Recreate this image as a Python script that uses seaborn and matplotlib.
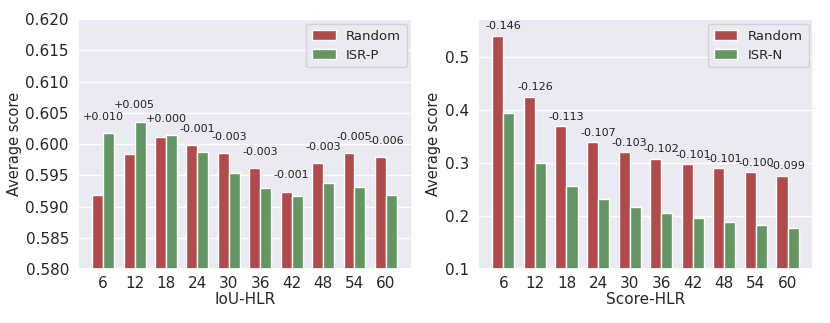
import numpy as np
import pandas as pd
import matplotlib
matplotlib.use("Agg")
import matplotlib.pyplot as plt
import seaborn as sns

hlr = ["6", "12", "18", "24", "30", "36", "42", "48", "54", "60"]

iou_random = [0.5918, 0.5984, 0.6011, 0.5998, 0.5986, 0.5961, 0.5924, 0.5970, 0.5986, 0.5979]
iou_isrp = [0.6018, 0.6036, 0.6015, 0.5988, 0.5953, 0.5929, 0.5917, 0.5938, 0.5932, 0.5918]
iou_labels = ["+0.010", "+0.005", "+0.000", "-0.001", "-0.003", "-0.003", "-0.001", "-0.003", "-0.005", "-0.006"]

score_random = [0.540, 0.425, 0.370, 0.339, 0.320, 0.308, 0.298, 0.290, 0.283, 0.276]
score_isrn = [0.394, 0.299, 0.257, 0.232, 0.217, 0.206, 0.197, 0.189, 0.183, 0.177]
score_labels = ["-0.146", "-0.126", "-0.113", "-0.107", "-0.103", "-0.102", "-0.101", "-0.101", "-0.100", "-0.099"]

sns.set_theme(style="darkgrid")
plt.rcParams['font.family'] = ['DejaVu Sans']

RED = "#B04B4B"
GREEN = "#639663"

fig = plt.figure(figsize=(8.3, 3.23), dpi=100)
ax1 = fig.add_axes([0.094, 0.167, 0.402, 0.774])
ax2 = fig.add_axes([0.576, 0.167, 0.404, 0.774])


def panel(ax, a, b, name_b, labels, xlabel, ylim, yticks, yfmt, off):
    df = pd.DataFrame({
        "HLR": hlr * 2,
        "score": a + b,
        "method": ["Random"] * len(hlr) + [name_b] * len(hlr),
    })
    sns.barplot(data=df, x="HLR", y="score", hue="method", order=hlr,
                palette=[RED, GREEN], width=0.7, gap=0.0, ax=ax,
                edgecolor="white", linewidth=1.0, saturation=1.0)
    ax.set_ylim(*ylim)
    ax.set_xlim(-0.8, 9.82)
    ax.set_yticks(yticks)
    ax.set_yticklabels([yfmt.format(v) for v in yticks], fontsize=11)
    ax.tick_params(axis="x", labelsize=11, length=0, pad=5)
    ax.tick_params(axis="y", length=0, pad=6.5)
    ax.set_xlabel(xlabel, fontsize=11, labelpad=1)
    ax.set_ylabel("Average score", fontsize=10.5, labelpad=2.5)
    for i, lab in enumerate(labels):
        top = max(a[i], b[i])
        ax.annotate(lab, (i, top), xytext=(0, off), textcoords="offset points",
                    ha="center", va="bottom", fontsize=8, color="#222222")
    leg = ax.legend(loc="upper right", fontsize=9.5, frameon=True,
                    handlelength=1.8, borderpad=0.45, labelspacing=0.45,
                    borderaxespad=0.35)
    leg.set_title(None)


panel(ax1, iou_random, iou_isrp, "ISR-P", iou_labels, "IoU-HLR",
      (0.580, 0.620), [0.580, 0.585, 0.590, 0.595, 0.600, 0.605, 0.610, 0.615, 0.620],
      "{:.3f}", 8)
panel(ax2, score_random, score_isrn, "ISR-N", score_labels, "Score-HLR",
      (0.1, 0.571), [0.1, 0.2, 0.3, 0.4, 0.5], "{:.1f}", 3)

fig.savefig("out.png", dpi=100)
